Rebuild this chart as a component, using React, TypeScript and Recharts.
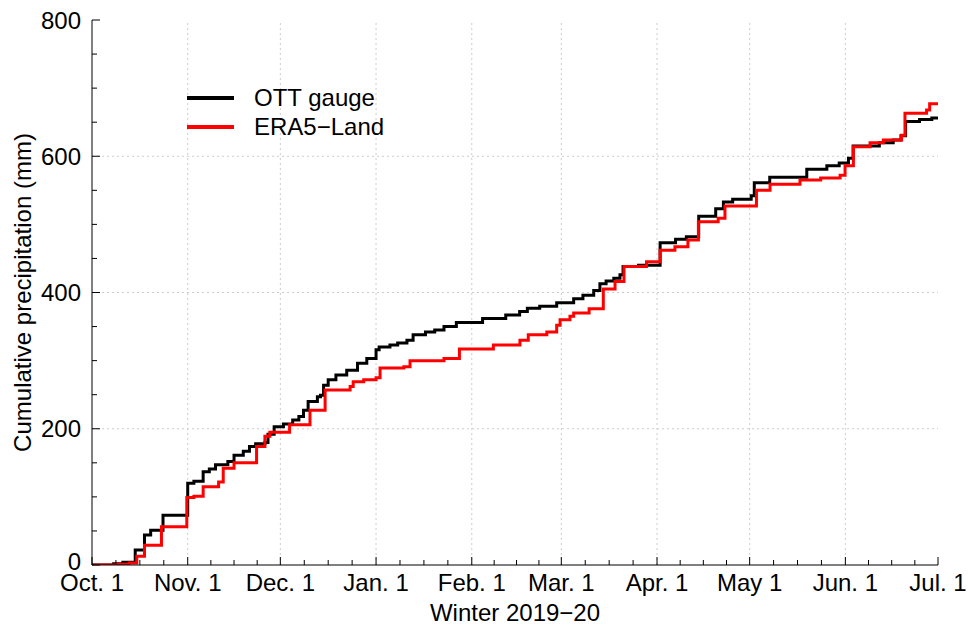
import {Legend, Line, LineChart, ReferenceLine, XAxis, YAxis} from "recharts";

// days since Oct. 1 2019 (2020 is a leap year)
const monthDays = [0, 31, 61, 92, 123, 152, 183, 213, 244, 274];
const monthLabels = ["Oct. 1", "Nov. 1", "Dec. 1", "Jan. 1", "Feb. 1", "Mar. 1", "Apr. 1", "May 1", "Jun. 1", "Jul. 1"];
const mmTicks = [0, 200, 400, 600, 800];

// OTT gauge, cumulative mm (step changes)
const ottDays = [0, 7, 10, 14, 17, 19, 23, 31, 33, 36, 38, 40, 44, 46, 49, 51, 53, 56, 57, 59, 62, 65, 67, 68.5, 70, 73, 74, 75, 76.5, 79, 82.5, 86, 89, 92, 93, 96.5, 99, 102, 104, 108, 111, 114, 118, 126.5, 134, 138.5, 141, 145, 150.5, 156, 159, 162.5, 164.5, 166.5, 169, 171, 172, 177, 184, 189, 192.5, 196.5, 202, 204.5, 207.5, 213.5, 214.5, 219.5, 231.5, 238, 242, 245, 246.5, 255, 259.5, 262, 263.5, 268, 272, 274];
const ottMm = [0, 2, 4, 22, 44, 51, 73, 120, 123, 137, 141, 147, 152, 161, 167, 174, 178, 180, 192, 203, 207, 213, 218, 227, 240, 247, 249, 264, 272, 279, 286, 296, 303, 316, 320, 323, 326, 330, 338, 342, 345, 350, 356, 362, 367, 372, 377, 380, 385, 391, 396, 403, 413, 417, 421, 426, 438, 440, 473, 478, 482, 512, 523, 533, 537, 542, 561, 569, 581, 586, 590, 597, 615, 620, 624, 630, 651, 654, 656, 656];

// ERA5-Land, cumulative mm
const eraDays = [0, 8, 12, 14.5, 17, 22.5, 30.7, 33, 36, 41, 42.5, 46, 53.3, 56, 57.6, 64, 70.6, 75.5, 83.6, 84.6, 88, 92, 93.3, 101, 103, 114, 119, 130, 138.6, 141.3, 147.3, 150.5, 151.6, 154.8, 156, 161, 165.6, 169.4, 172.3, 179.6, 184, 188.8, 193, 196.4, 202.8, 205, 215.2, 219.6, 229.3, 236, 242.3, 243.9, 246.6, 252, 256.3, 262.2, 263.3, 270.3, 271.3, 274];
const eraMm = [0, 1, 3, 13, 29, 56, 99, 101, 115, 122, 142, 150, 174, 189, 195, 206, 227, 257, 262, 269, 272, 275, 289, 291, 300, 303, 317, 323, 330, 338, 342, 352, 360, 365, 370, 376, 405, 416, 438, 445, 462, 467, 477, 504, 509, 527, 550, 559, 565, 568, 572, 586, 614, 620, 624, 631, 663, 668, 677, 677];

const ottData = ottDays.map((day, i) => ({day, mm: ottMm[i]}));
const eraData = eraDays.map((day, i) => ({day, mm: eraMm[i]}));

const FONT = "'Liberation Sans', Arial, Helvetica, sans-serif";
const TM = 8;

// major ticks on month starts, minor ticks at quarter months
const xTicks: number[] = [];
monthDays.forEach((d, i) => {
  if (i === monthDays.length - 1) {
    xTicks.push(d);
    return;
  }
  const len = monthDays[i + 1] - d;
  for (let k = 0; k < 4; k++) xTicks.push(d + (k * len) / 4);
});
const yTicks: number[] = [];
for (let v = 0; v <= 800; v += 50) yTicks.push(v);

function BottomTick({x, y, payload}: any) {
  const idx = monthDays.indexOf(payload.value);
  const axisY = y - TM;
  return (
    <g>
      <line x1={x} x2={x} y1={axisY} y2={axisY - (idx >= 0 ? 8 : 5)} stroke="#000"/>
      {idx >= 0 && (
        <text x={x} y={axisY + 7} dy="0.8em" textAnchor="middle" fontSize={24} fontFamily={FONT} fill="#000">
          {monthLabels[idx]}
        </text>
      )}
    </g>
  );
}

function TopTick({x, y, payload}: any) {
  const major = monthDays.includes(payload.value);
  const axisY = y + TM;
  return <line x1={x} x2={x} y1={axisY} y2={axisY + (major ? 8 : 5)} stroke="#000"/>;
}

function LeftTick({x, y, payload}: any) {
  const major = payload.value % 200 === 0;
  const axisX = x + TM;
  return (
    <g>
      <line x1={axisX} x2={axisX + (major ? 8 : 5)} y1={y} y2={y} stroke="#000"/>
      {major && (
        <text x={axisX - 11} y={payload.value === 0 ? y - 4 : y} dy="0.36em" textAnchor="end" fontSize={24} fontFamily={FONT} fill="#000">
          {payload.value}
        </text>
      )}
    </g>
  );
}

function RightTick({x, y, payload}: any) {
  const major = payload.value % 200 === 0;
  const axisX = x - TM;
  return <line x1={axisX} x2={axisX - (major ? 8 : 5)} y1={y} y2={y} stroke="#000"/>;
}

function LegendBox() {
  const items = [
    {name: "OTT gauge", color: "#000000"},
    {name: "ERA5\u2212Land", color: "#ff0000"},
  ];
  return (
    <div style={{fontFamily: FONT, fontSize: 24, color: "#000"}}>
      {items.map(item => (
        <div key={item.name} style={{display: "flex", alignItems: "center", height: 28.5}}>
          <svg width={47} height={6}>
            <line x1={0} x2={47} y1={3} y2={3} stroke={item.color} strokeWidth={4}/>
          </svg>
          <span style={{marginLeft: 20, lineHeight: "28px"}}>{item.name}</span>
        </div>
      ))}
    </div>
  );
}

export default function App() {
  return (
    <div style={{position: "absolute", left: 0, top: 0, background: "#fff"}}>
      <LineChart width={968} height={625} margin={{top: 20, right: 30, left: 0, bottom: 0}}>
        <XAxis
          xAxisId={0}
          dataKey="day"
          type="number"
          domain={[0, 274]}
          ticks={xTicks}
          interval={0}
          height={60}
          tickSize={0}
          tickMargin={TM}
          tickLine={false}
          axisLine={{stroke: "#000"}}
          tick={<BottomTick/>}
          allowDataOverflow
          label={{value: "Winter 2019\u221220", position: "insideBottom", offset: 4, fontSize: 24, fill: "#000", fontFamily: FONT}}
        />
        <XAxis
          xAxisId="top"
          orientation="top"
          dataKey="day"
          type="number"
          domain={[0, 274]}
          ticks={xTicks}
          interval={0}
          height={0}
          tickSize={0}
          tickMargin={TM}
          tickLine={false}
          axisLine={{stroke: "#000"}}
          tick={<TopTick/>}
          allowDataOverflow
        />
        <YAxis
          yAxisId={0}
          type="number"
          domain={[0, 800]}
          ticks={yTicks}
          interval={0}
          width={92}
          tickSize={0}
          tickMargin={TM}
          tickLine={false}
          axisLine={{stroke: "#000"}}
          tick={<LeftTick/>}
          allowDataOverflow
          label={{value: "Cumulative precipitation (mm)", angle: -90, position: "insideLeft", offset: 22, fontSize: 24, fill: "#000", fontFamily: FONT, style: {textAnchor: "middle"}}}
        />
        <YAxis
          yAxisId="right"
          orientation="right"
          type="number"
          domain={[0, 800]}
          ticks={yTicks}
          interval={0}
          width={0}
          tickSize={0}
          tickMargin={TM}
          tickLine={false}
          axisLine={{stroke: "#000"}}
          tick={<RightTick/>}
          allowDataOverflow
        />
        {monthDays.slice(1, -1).map(d => (
          <ReferenceLine key={"x" + d} x={d} stroke="#cccccc" strokeDasharray="2 3"/>
        ))}
        {mmTicks.slice(1, -1).map(v => (
          <ReferenceLine key={"y" + v} y={v} stroke="#cccccc" strokeDasharray="2 3"/>
        ))}
        <Legend
          layout="vertical"
          align="center"
          verticalAlign="middle"
          wrapperStyle={{left: 187, top: 84, width: "auto"}}
          content={<LegendBox/>}
        />
        <Line
          data={ottData}
          dataKey="mm"
          name="OTT gauge"
          type="stepAfter"
          stroke="#000000"
          strokeWidth={3}
          dot={false}
          isAnimationActive={false}
        />
        <Line
          data={eraData}
          dataKey="mm"
          name="ERA5-Land"
          type="stepAfter"
          stroke="#ff0000"
          strokeWidth={3}
          dot={false}
          isAnimationActive={false}
        />
      </LineChart>
    </div>
  );
}
